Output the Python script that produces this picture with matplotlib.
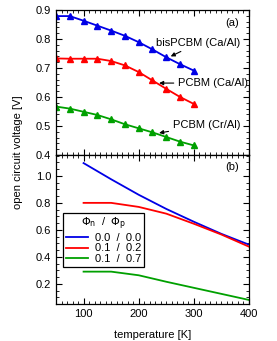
import numpy as np
import matplotlib
matplotlib.use("Agg")
import matplotlib.pyplot as plt
from matplotlib.ticker import MultipleLocator

# === dados (a): medidas ===
temp_a = [50, 75, 100, 125, 150, 175, 200, 225, 250, 275, 300]
voc_bis = [0.879, 0.879, 0.863, 0.846, 0.829, 0.811, 0.789, 0.764, 0.737, 0.713, 0.691]
voc_pcbm_ca = [0.733, 0.732, 0.732, 0.732, 0.724, 0.709, 0.686, 0.657, 0.628, 0.600, 0.576]
voc_pcbm_cr = [0.567, 0.560, 0.549, 0.538, 0.523, 0.506, 0.492, 0.478, 0.462, 0.446, 0.433]

# === dados (b): simulacao ===
temp_b = [100, 150, 200, 250, 300, 350, 400]
voc_00 = [1.095, 0.975, 0.860, 0.755, 0.660, 0.570, 0.490]
voc_12 = [0.800, 0.800, 0.770, 0.720, 0.645, 0.565, 0.475]
voc_17 = [0.290, 0.290, 0.263, 0.215, 0.170, 0.125, 0.080]
legend_labels = ["0.0  /  0.0", "0.1  /  0.2", "0.1  /  0.7"]

plt.rcParams["font.family"] = ["Liberation Sans", "DejaVu Sans"]
plt.rcParams["font.size"] = 8

fig = plt.figure(figsize=(2.77, 3.41), dpi=100)
ax1 = fig.add_axes([56/277, 1 - 155/341, (249-56)/277, (155-10)/341])
ax2 = fig.add_axes([56/277, 1 - 304/341, (249-56)/277, (304-155)/341], sharex=ax1)

azul, verm, verde = "#0000e6", "#ff0000", "#00a000"

kw = dict(marker="^", markersize=4.5, linewidth=1.3)
ax1.plot(temp_a, voc_bis, color=azul, **kw)
ax1.plot(temp_a, voc_pcbm_ca, color=verm, **kw)
ax1.plot(temp_a, voc_pcbm_cr, color=verde, **kw)
ax1.set_ylim(0.4, 0.9)
ax1.yaxis.set_major_locator(MultipleLocator(0.1))
ax1.yaxis.set_minor_locator(MultipleLocator(0.02))
ax1.tick_params(labelbottom=False)

arr = dict(arrowstyle="-|>", color="black", lw=0.8, mutation_scale=6,
           shrinkA=1, shrinkB=0)
ax1.annotate("bisPCBM (Ca/Al)", xy=(258, 0.740), xytext=(384, 0.786),
             ha="right", va="center", arrowprops=arr)
ax1.annotate("PCBM (Ca/Al)", xy=(237, 0.648), xytext=(398, 0.648),
             ha="right", va="center", arrowprops=arr)
ax1.annotate("PCBM (Cr/Al)", xy=(237, 0.476), xytext=(384, 0.503),
             ha="right", va="center", arrowprops=arr)
ax1.text(0.95, 0.91, "(a)", transform=ax1.transAxes, ha="right", va="center")

ax2.plot(temp_b, voc_00, color=azul, lw=1.3, label=legend_labels[0])
ax2.plot(temp_b, voc_12, color=verm, lw=1.3, label=legend_labels[1])
ax2.plot(temp_b, voc_17, color=verde, lw=1.3, label=legend_labels[2])
ax2.set_ylim(0.05, 1.155)
ax2.yaxis.set_major_locator(MultipleLocator(0.2))
ax2.yaxis.set_minor_locator(MultipleLocator(0.05))
ax2.text(0.95, 0.92, "(b)", transform=ax2.transAxes, ha="right", va="center")
leg = ax2.legend(loc="upper left", bbox_to_anchor=(0.036, 0.61), fontsize=8,
                 title="$\\Phi_\\mathrm{n}$  /  $\\Phi_\\mathrm{p}$", title_fontsize=8,
                 fancybox=False, edgecolor="black", framealpha=1,
                 handlelength=2.0, handletextpad=0.6, borderpad=0.25,
                 labelspacing=0.05, borderaxespad=0)
leg.get_frame().set_linewidth(0.9)

ax2.set_xlim(50, 400)
ax2.xaxis.set_major_locator(MultipleLocator(100))
ax2.xaxis.set_minor_locator(MultipleLocator(10))
ax2.set_xlabel("temperature [K]", labelpad=8)

for ax in (ax1, ax2):
    ax.tick_params(which="both", direction="in", top=True, right=True)
    ax.tick_params(which="major", length=4, width=0.8)
    ax.tick_params(which="minor", length=2, width=0.6)
    for s in ax.spines.values():
        s.set_linewidth(0.9)

fig.text(18/277, 1 - 152/341, "open circuit voltage [V]", rotation=90,
         ha="center", va="center")

fig.savefig("out.png", dpi=100)
